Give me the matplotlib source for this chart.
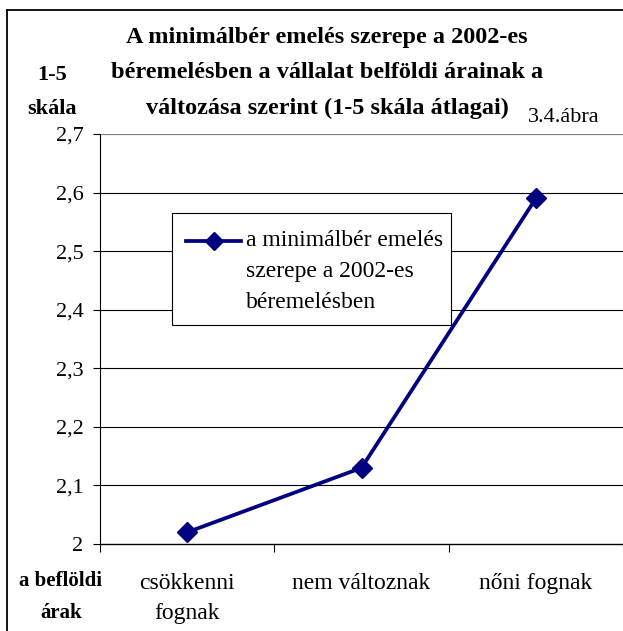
import matplotlib
matplotlib.use('Agg')
import matplotlib.pyplot as plt
from matplotlib.lines import Line2D

categories = ['csökkenni\nfognak', 'nem változnak', 'nőni fognak']
values = [2.02, 2.13, 2.59]
yticks = [2.0, 2.1, 2.2, 2.3, 2.4, 2.5, 2.6, 2.7]
ytick_labels = ['2', '2,1', '2,2', '2,3', '2,4', '2,5', '2,6', '2,7']
series_name = ['a minimálbér emelés', 'szerepe a 2002-es', 'béremelésben']
title_lines = ['A minimálbér emelés szerepe a 2002-es',
               'béremelésben a vállalat belföldi árainak a',
               'változása szerint (1-5 skála átlagai)']

plt.rcParams['font.family'] = ['Liberation Serif', 'DejaVu Serif']

W, H = 623, 631
fig = plt.figure(figsize=(W / 100, H / 100), dpi=100)


def px(x, y):
    # pixel position (from top-left) -> figure fraction
    return x / W, 1 - y / H


# outer frame (right and bottom are cut off)
fig.add_artist(Line2D([7 / W, 7 / W], [0, 1 - 10 / H], color='black', lw=1.3))
fig.add_artist(Line2D([7 / W, 1], [1 - 10 / H, 1 - 10 / H], color='black', lw=1.3))

ax_l, ax_t, ax_b = 100, 134, 544
ax = fig.add_axes([ax_l / W, 1 - ax_b / H, 1 - ax_l / W, (ax_b - ax_t) / H])

xpos = [i + 0.5 for i in range(len(categories))]
line, = ax.plot(xpos, values, color='#000080', lw=2.7, marker='D', markersize=10)

ax.set_ylim(2.0, 2.7)
ax.set_xlim(0, (W - ax_l) / 177)
ax.set_yticks(yticks)
ax.set_yticklabels(ytick_labels, fontsize=16)
for y in yticks[1:-1]:
    ax.axhline(y, color='black', lw=0.8, zorder=0)
ax.axhline(2.7, color='#808080', lw=1.6, zorder=0)

ax.set_xticks([0, 1, 2, 3])
ax.set_xticklabels([])
ax.set_xticks(xpos, minor=True)
ax.set_xticklabels(categories, minor=True, fontsize=17, linespacing=1.55)
ax.tick_params(axis='x', which='minor', length=0, pad=21)
ax.tick_params(axis='x', which='major', length=6, direction='out', width=0.8)
ax.tick_params(axis='y', length=5, direction='out', width=0.8, pad=7)
for s in ['top', 'right']:
    ax.spines[s].set_visible(False)
ax.spines['left'].set_linewidth(0.8)
ax.spines['bottom'].set_linewidth(1.0)

# legend box, handle sits on the first text line
x0, y0 = px(172, 213)
x1, y1 = px(451, 325)
fig.add_artist(plt.Rectangle((x0, y1), x1 - x0, y0 - y1, transform=fig.transFigure,
                             facecolor='white', edgecolor='black', lw=0.8, zorder=5))
hx0, hy = px(186, 241)
hx1, _ = px(241, 241)
fig.add_artist(Line2D([hx0, hx1], [hy, hy], color=line.get_color(), lw=line.get_linewidth(),
                      zorder=6))
fig.add_artist(Line2D([(hx0 + hx1) / 2], [hy], color=line.get_color(), marker='D',
                      markersize=9, zorder=6))
for i, s in enumerate(series_name):
    fig.text(*px(246, 241 + 31 * i), s, ha='left', va='center', fontsize=17, zorder=6)

for i, s in enumerate(title_lines):
    fig.text(*px(327, 38 + 35 * i), s, ha='center', va='center', fontsize=17.5,
             fontweight='bold')
fig.text(*px(52, 92), '1-5\nskála', ha='center', va='center', fontsize=16,
         fontweight='bold', linespacing=1.95)
fig.text(*px(564, 118), '3.4.ábra', ha='center', va='center', fontsize=16)
fig.text(*px(61, 597), 'a beflöldi\nárak', ha='center', va='center', fontsize=15,
         fontweight='bold', linespacing=1.78)

plt.savefig('out.png', dpi=100)
plt.close()
